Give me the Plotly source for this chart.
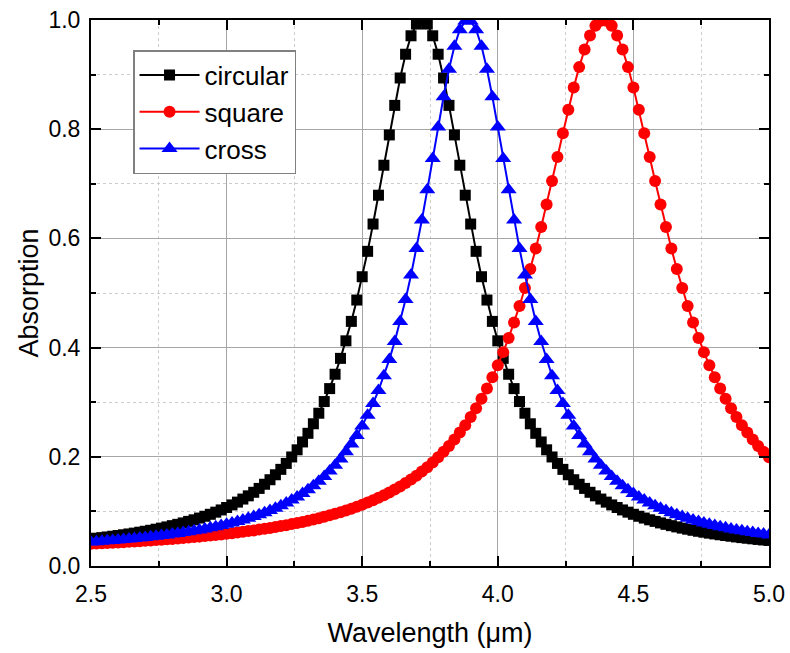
import plotly.graph_objects as go

wavelength = [
    2.50, 2.52, 2.54, 2.56, 2.58, 2.60, 2.62, 2.64, 2.66, 2.68,
    2.70, 2.72, 2.74, 2.76, 2.78, 2.80, 2.82, 2.84, 2.86, 2.88,
    2.90, 2.92, 2.94, 2.96, 2.98, 3.00, 3.02, 3.04, 3.06, 3.08,
    3.10, 3.12, 3.14, 3.16, 3.18, 3.20, 3.22, 3.24, 3.26, 3.28,
    3.30, 3.32, 3.34, 3.36, 3.38, 3.40, 3.42, 3.44, 3.46, 3.48,
    3.50, 3.52, 3.54, 3.56, 3.58, 3.60, 3.62, 3.64, 3.66, 3.68,
    3.70, 3.72, 3.74, 3.76, 3.78, 3.80, 3.82, 3.84, 3.86, 3.88,
    3.90, 3.92, 3.94, 3.96, 3.98, 4.00, 4.02, 4.04, 4.06, 4.08,
    4.10, 4.12, 4.14, 4.16, 4.18, 4.20, 4.22, 4.24, 4.26, 4.28,
    4.30, 4.32, 4.34, 4.36, 4.38, 4.40, 4.42, 4.44, 4.46, 4.48,
    4.50, 4.52, 4.54, 4.56, 4.58, 4.60, 4.62, 4.64, 4.66, 4.68,
    4.70, 4.72, 4.74, 4.76, 4.78, 4.80, 4.82, 4.84, 4.86, 4.88,
    4.90, 4.92, 4.94, 4.96, 4.98, 5.00,
]

circular = [
    0.0498, 0.0509, 0.0520, 0.0532, 0.0545, 0.0558, 0.0572, 0.0587, 0.0602, 0.0619,
    0.0636, 0.0654, 0.0674, 0.0694, 0.0716, 0.0739, 0.0763, 0.0789, 0.0817, 0.0846,
    0.0878, 0.0911, 0.0947, 0.0986, 0.1027, 0.1071, 0.1119, 0.1170, 0.1226, 0.1285,
    0.1350, 0.1421, 0.1497, 0.1580, 0.1671, 0.1770, 0.1879, 0.1997, 0.2128, 0.2272,
    0.2430, 0.2605, 0.2798, 0.3012, 0.3249, 0.3512, 0.3803, 0.4124, 0.4480, 0.4871,
    0.5298, 0.5763, 0.6263, 0.6791, 0.7340, 0.7895, 0.8436, 0.8938, 0.9373, 0.9711,
    0.9926, 1.0000,
    0.9926, 0.9711, 0.9373, 0.8938, 0.8436, 0.7895, 0.7340, 0.6791, 0.6263, 0.5763,
    0.5298, 0.4871, 0.4480, 0.4124, 0.3803, 0.3512, 0.3249, 0.3012, 0.2798, 0.2605,
    0.2430, 0.2272, 0.2128, 0.1997, 0.1879, 0.1770, 0.1671, 0.1580, 0.1497, 0.1421,
    0.1350, 0.1285, 0.1226, 0.1170, 0.1119, 0.1071, 0.1027, 0.0986, 0.0947, 0.0911,
    0.0878, 0.0846, 0.0817, 0.0789, 0.0763, 0.0739, 0.0716, 0.0694, 0.0674, 0.0654,
    0.0636, 0.0619, 0.0602, 0.0587, 0.0572, 0.0558, 0.0545, 0.0532, 0.0520, 0.0509,
    0.0498, 0.0487, 0.0477, 0.0468,
]

square = [
    0.0406, 0.0411, 0.0415, 0.0421, 0.0426, 0.0431, 0.0437, 0.0442, 0.0448, 0.0455,
    0.0461, 0.0467, 0.0474, 0.0481, 0.0489, 0.0496, 0.0504, 0.0512, 0.0521, 0.0529,
    0.0538, 0.0548, 0.0558, 0.0568, 0.0578, 0.0590, 0.0601, 0.0613, 0.0626, 0.0639,
    0.0652, 0.0667, 0.0682, 0.0697, 0.0713, 0.0731, 0.0748, 0.0767, 0.0787, 0.0807,
    0.0829, 0.0852, 0.0876, 0.0901, 0.0928, 0.0956, 0.0986, 0.1017, 0.1050, 0.1085,
    0.1123, 0.1162, 0.1204, 0.1248, 0.1296, 0.1346, 0.1400, 0.1457, 0.1519, 0.1584,
    0.1654, 0.1730, 0.1810, 0.1897, 0.1990, 0.2091, 0.2199, 0.2316, 0.2443, 0.2579,
    0.2727, 0.2888, 0.3062, 0.3250, 0.3455, 0.3676, 0.3917, 0.4177, 0.4459, 0.4763,
    0.5090, 0.5440, 0.5813, 0.6208, 0.6622, 0.7051, 0.7489, 0.7927, 0.8357, 0.8765,
    0.9137, 0.9459, 0.9716, 0.9896, 0.9988,
    0.9988, 0.9896, 0.9716, 0.9459, 0.9137, 0.8765, 0.8357, 0.7927, 0.7489, 0.7051,
    0.6622, 0.6208, 0.5813, 0.5440, 0.5090, 0.4763, 0.4459, 0.4177, 0.3917, 0.3676,
    0.3455, 0.3250, 0.3062, 0.2888, 0.2727, 0.2579, 0.2443, 0.2316, 0.2199, 0.2091,
    0.1990,
]

cross = [
    0.0440, 0.0446, 0.0454, 0.0461, 0.0469, 0.0477, 0.0485, 0.0494, 0.0504, 0.0514,
    0.0524, 0.0535, 0.0546, 0.0558, 0.0570, 0.0584, 0.0597, 0.0612, 0.0628, 0.0644,
    0.0661, 0.0679, 0.0699, 0.0719, 0.0741, 0.0764, 0.0789, 0.0815, 0.0843, 0.0873,
    0.0905, 0.0940, 0.0976, 0.1016, 0.1058, 0.1104, 0.1154, 0.1207, 0.1265, 0.1328,
    0.1396, 0.1471, 0.1552, 0.1640, 0.1738, 0.1844, 0.1961, 0.2091, 0.2233, 0.2391,
    0.2566, 0.2760, 0.2975, 0.3215, 0.3483, 0.3780, 0.4110, 0.4477, 0.4882, 0.5328,
    0.5813, 0.6336, 0.6890, 0.7464, 0.8040, 0.8595, 0.9099, 0.9519, 0.9821, 0.9980,
    0.9980, 0.9821, 0.9519, 0.9099, 0.8595, 0.8040, 0.7464, 0.6890, 0.6336, 0.5813,
    0.5328, 0.4882, 0.4477, 0.4110, 0.3780, 0.3483, 0.3215, 0.2975, 0.2760, 0.2566,
    0.2391, 0.2233, 0.2091, 0.1961, 0.1844, 0.1738, 0.1640, 0.1552, 0.1471, 0.1396,
    0.1328, 0.1265, 0.1207, 0.1154, 0.1104, 0.1058, 0.1016, 0.0976, 0.0940, 0.0905,
    0.0873, 0.0843, 0.0815, 0.0789, 0.0764, 0.0741, 0.0719, 0.0699, 0.0679, 0.0661,
    0.0644, 0.0628, 0.0612, 0.0597, 0.0584, 0.0570,
]

series_names = ["circular", "square", "cross"]
series_values = [circular, square, cross]
series_colors = ["#000000", "#ff0000", "#0000ff"]
series_symbols = ["square", "circle", "triangle-up"]
series_sizes = [11, 12, 14]

x_ticks = [2.5, 3.0, 3.5, 4.0, 4.5, 5.0]
y_ticks = [0.0, 0.2, 0.4, 0.6, 0.8, 1.0]

FONT = "Arial, 'Liberation Sans', sans-serif"

fig = go.Figure()
for name, vals, col, sym, sz in zip(series_names, series_values, series_colors, series_symbols, series_sizes):
    fig.add_trace(go.Scatter(
        x=wavelength, y=vals, name=name, mode="lines+markers",
        line=dict(color=col, width=2),
        marker=dict(symbol=sym, size=sz, color=col, line=dict(width=0)),
    ))

axis_common = dict(
    showline=True, linecolor="black", linewidth=2, mirror="allticks",
    ticks="inside", ticklen=10, tickwidth=2, tickcolor="black",
    showgrid=True, gridcolor="#a6a6a6", gridwidth=1,
    zeroline=False, automargin=False,
    tickfont=dict(family=FONT, size=23, color="black"),
)

fig.update_xaxes(
    **axis_common,
    range=[2.5, 5.0], tickvals=x_ticks, ticktext=[f"{v:.1f}" for v in x_ticks],
    ticklabelstandoff=6,
    minor=dict(dtick=0.25, tick0=2.5, ticks="inside", ticklen=5, tickwidth=1.5, tickcolor="black",
               showgrid=True, gridcolor="#cccccc", gridwidth=1, griddash="3px,3px"),
    title=dict(text="Wavelength (μm)", font=dict(family=FONT, size=27, color="black"), standoff=18),
)
fig.update_yaxes(
    **axis_common,
    range=[0, 1.0], tickvals=y_ticks, ticktext=[f"{v:.1f}" for v in y_ticks],
    ticklabelstandoff=4,
    minor=dict(dtick=0.1, tick0=0, ticks="inside", ticklen=5, tickwidth=1.5, tickcolor="black",
               showgrid=True, gridcolor="#cccccc", gridwidth=1, griddash="3px,3px"),
    title=dict(text="Absorption", font=dict(family=FONT, size=27, color="black"), standoff=2),
)

fig.update_layout(
    width=790, height=653,
    margin=dict(l=91, r=21, t=20, b=87),
    paper_bgcolor="white", plot_bgcolor="white",
    showlegend=True,
    legend=dict(
        x=0.062, y=0.945, xanchor="left", yanchor="top",
        bgcolor="white", bordercolor="#808080", borderwidth=1.5,
        font=dict(family=FONT, size=26, color="black"),
        itemwidth=60, tracegroupgap=0,
    ),
)

fig.write_html("out.html")
